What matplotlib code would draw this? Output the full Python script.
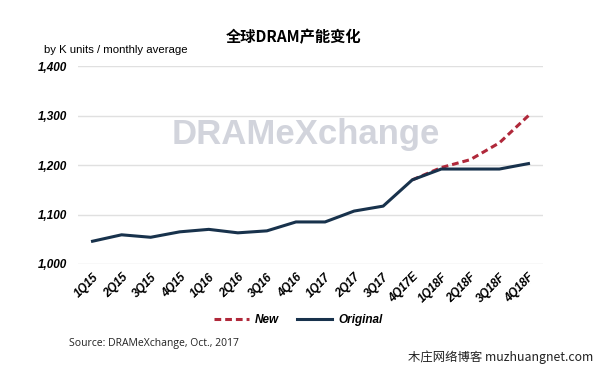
import matplotlib.pyplot as plt

plt.rcParams['font.family'] = ['Liberation Sans', 'Noto Sans CJK SC', 'DejaVu Sans']

# donnees
quarters = ['1Q15', '2Q15', '3Q15', '4Q15', '1Q16', '2Q16', '3Q16', '4Q16',
            '1Q17', '2Q17', '3Q17', '4Q17E', '1Q18F', '2Q18F', '3Q18F', '4Q18F']
original = [1046, 1059, 1054, 1065, 1070, 1063, 1067, 1085,
            1085, 1107, 1117, 1170, 1192, 1192, 1192, 1203]
new_q = ['4Q17E', '1Q18F', '2Q18F', '3Q18F', '4Q18F']
new_vals = [1170, 1195, 1211, 1245, 1300]
yticks = [1000, 1100, 1200, 1300, 1400]

fig = plt.figure(figsize=(6, 3.67), dpi=100)
ax = fig.add_axes([0.13, 0.2807, 0.775, 0.539])

x = list(range(len(quarters)))
xn = [quarters.index(q) for q in new_q]

ax.plot(xn, new_vals, color='#b0283a', lw=2.2, ls=(0, (2.2, 1.3)), label='New', zorder=3)
ax.plot(x, original, color='#18324c', lw=2.2, label='Original', zorder=4)

ax.set_xlim(-0.5, 15.5)
ax.set_ylim(1000, 1400)
ax.set_yticks(yticks)
ax.set_yticklabels([f'{v:,}' for v in yticks], fontsize=8.5, fontweight='bold', style='italic')
ax.set_xticks(x)
ax.set_xticklabels(quarters, rotation=45, ha='right', rotation_mode='anchor',
                   fontsize=8.5, fontweight='bold', style='italic')
ax.tick_params(length=0, pad=8)
ax.tick_params(axis='x', pad=5)
ax.grid(axis='y', color='#e0e0e0', lw=1)
ax.set_axisbelow(True)
for s in ax.spines.values():
    s.set_visible(False)

# filigrane
ax.text(0.49, 0.655, 'DRAMeXchange', transform=ax.transAxes, ha='center', va='center',
        fontsize=25, fontweight='bold', color='#cdd0d9', alpha=0.9, zorder=1)

fig.text(0.49, 0.9, '全球DRAM产能变化', ha='center', va='center', fontsize=11,
         fontweight='bold', family=['Noto Sans CJK SC', 'DejaVu Sans'])
fig.text(0.073, 0.863, 'by K units / monthly average', ha='left', va='center', fontsize=8.2)
fig.text(0.115, 0.065, 'Source: DRAMeXchange, Oct., 2017', ha='left', va='center',
         fontsize=7.5, family=['Open Sans', 'DejaVu Sans'], color='#222222')
fig.text(0.988, 0.027, '木庄网络博客 muzhuangnet.com', ha='right', va='center',
         fontsize=8.9, family=['Noto Sans CJK SC', 'DejaVu Sans'], color='#222222')

leg = fig.legend(loc='center', bbox_to_anchor=(0.497, 0.128), ncol=2, frameon=False,
                 prop={'weight': 'bold', 'style': 'italic', 'size': 8.5},
                 handlelength=3, columnspacing=1.5, handletextpad=0.5)

fig.savefig('out.png', dpi=100)
